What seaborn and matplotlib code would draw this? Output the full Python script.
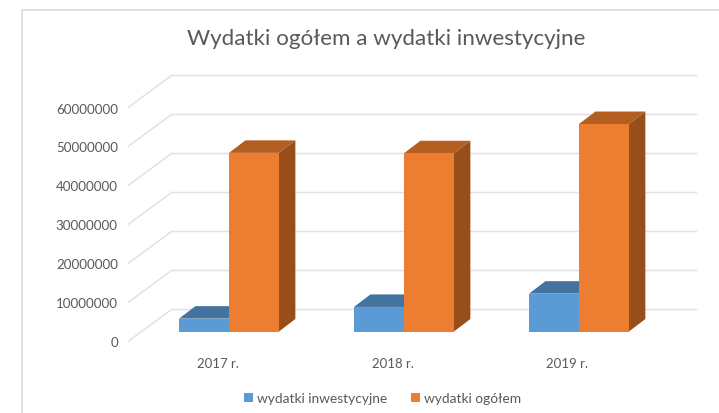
import pandas as pd
import seaborn as sns
import matplotlib.pyplot as plt
from matplotlib.lines import Line2D
from matplotlib.patches import Polygon
from matplotlib.transforms import Affine2D, IdentityTransform

sns.set_theme(style="white")
plt.rcParams['font.family'] = ['Lato', 'DejaVu Sans']

years = ['2017 r.', '2018 r.', '2019 r.']
wydatki_inwestycyjne = [3300000, 6300000, 9700000]
wydatki_ogolem = [45800000, 45700000, 53200000]
y_ticks = [0, 10000000, 20000000, 30000000, 40000000, 50000000, 60000000]

names = ['wydatki inwestycyjne', 'wydatki ogółem']
colors = ['#5B9BD5', '#ED7D31']
top_colors = ['#44739F', '#B55E22']
side_colors = ['#3A6490', '#974E1B']
text_color = '#595959'
grid_color = '#E2E2E2'

# bars sit in a plane between the front edge and the back wall (pixels)
back_shift = (30, 22)
front_shift = (-13.5, -10)
bar_depth = (16.4, 12.5)

W, H = 719, 414
df = pd.DataFrame({
    'rok': years * 2,
    'seria': [names[0]] * 3 + [names[1]] * 3,
    'kwota': wydatki_inwestycyjne + wydatki_ogolem,
})

fig = plt.figure(figsize=(W / 100, H / 100), dpi=100)
ax = fig.add_axes([141.5 / W, (H - 332.5) / H, 525 / W, 234 / H])
sns.barplot(data=df, x='rok', y='kwota', hue='seria', palette=colors,
            width=0.571, gap=0, saturation=1, legend=False, zorder=3,
            linewidth=0, ax=ax)
ax.set_xlim(-0.5, 2.5)
ax.set_ylim(0, 60000000)
ax.set_xlabel('')
ax.set_ylabel('')
ax.set_yticks(y_ticks)
ax.set_yticklabels([str(t) for t in y_ticks])
ax.patch.set_alpha(0)
sns.despine(ax=ax, left=True, bottom=True)


def prj(x, y, dx=0, dy=0):
    px, py = ax.transData.transform((x, y))
    return px + dx, py + dy


# back wall lines with the diagonal running to the front edge
for t in y_ticks:
    a = prj(-0.5, t, *front_shift)
    b = prj(-0.5, t, *back_shift)
    c = prj(2.5, t, *back_shift)
    ax.add_line(Line2D([a[0], b[0], c[0]], [a[1], b[1], c[1]], color=grid_color,
                       lw=1.1, transform=IdentityTransform(), clip_on=False, zorder=1))

# top and side of the bars
bars = [p for p in ax.patches if p.get_height() > 0]
for i, bar in enumerate(bars):
    s = i // 3
    x0 = bar.get_x()
    x1 = x0 + bar.get_width()
    h = bar.get_height()
    dx, dy = bar_depth
    top = [prj(x0, h), prj(x1, h), prj(x1, h, dx, dy), prj(x0, h, dx, dy)]
    side = [prj(x1, 0), prj(x1, 0, dx, dy), prj(x1, h, dx, dy), prj(x1, h)]
    ax.add_patch(Polygon(top, color=top_colors[s], lw=0, transform=IdentityTransform(),
                         clip_on=False, zorder=2))
    ax.add_patch(Polygon(side, color=side_colors[s], lw=0, transform=IdentityTransform(),
                         clip_on=False, zorder=2))
    bar.set_clip_on(False)

ax.tick_params(axis='y', length=0, pad=17, labelsize=9.6, labelcolor=text_color)
ax.tick_params(axis='x', length=0, pad=18.5, labelsize=9.5, labelcolor=text_color)
for lab in ax.get_yticklabels():
    lab.set_transform(lab.get_transform() + Affine2D().translate(0, front_shift[1]))
for lab in ax.get_xticklabels():
    lab.set_transform(lab.get_transform() + Affine2D().translate(-11.5, 0))

fig.text(386.5 / W, (H - 39) / H, 'Wydatki ogółem a wydatki inwestycyjne', ha='center',
         va='center', fontsize=16.1, color=text_color)

handles = [plt.Rectangle((0, 0), 1, 1, color=c, lw=0) for c in colors]
fig.legend(handles, names, loc='center', bbox_to_anchor=(382.5 / W, (H - 399) / H),
           ncol=2, frameon=False, fontsize=9.9, labelcolor=text_color, handlelength=0.66,
           handleheight=0.66, handletextpad=0.3, columnspacing=1.7)

# chart border, top and left only
fig.add_artist(Line2D([22 / W, 22 / W, 1], [0, (H - 11) / H, (H - 11) / H],
                      color='#DADADA', lw=1.2))

fig.savefig('out.png', dpi=100)
